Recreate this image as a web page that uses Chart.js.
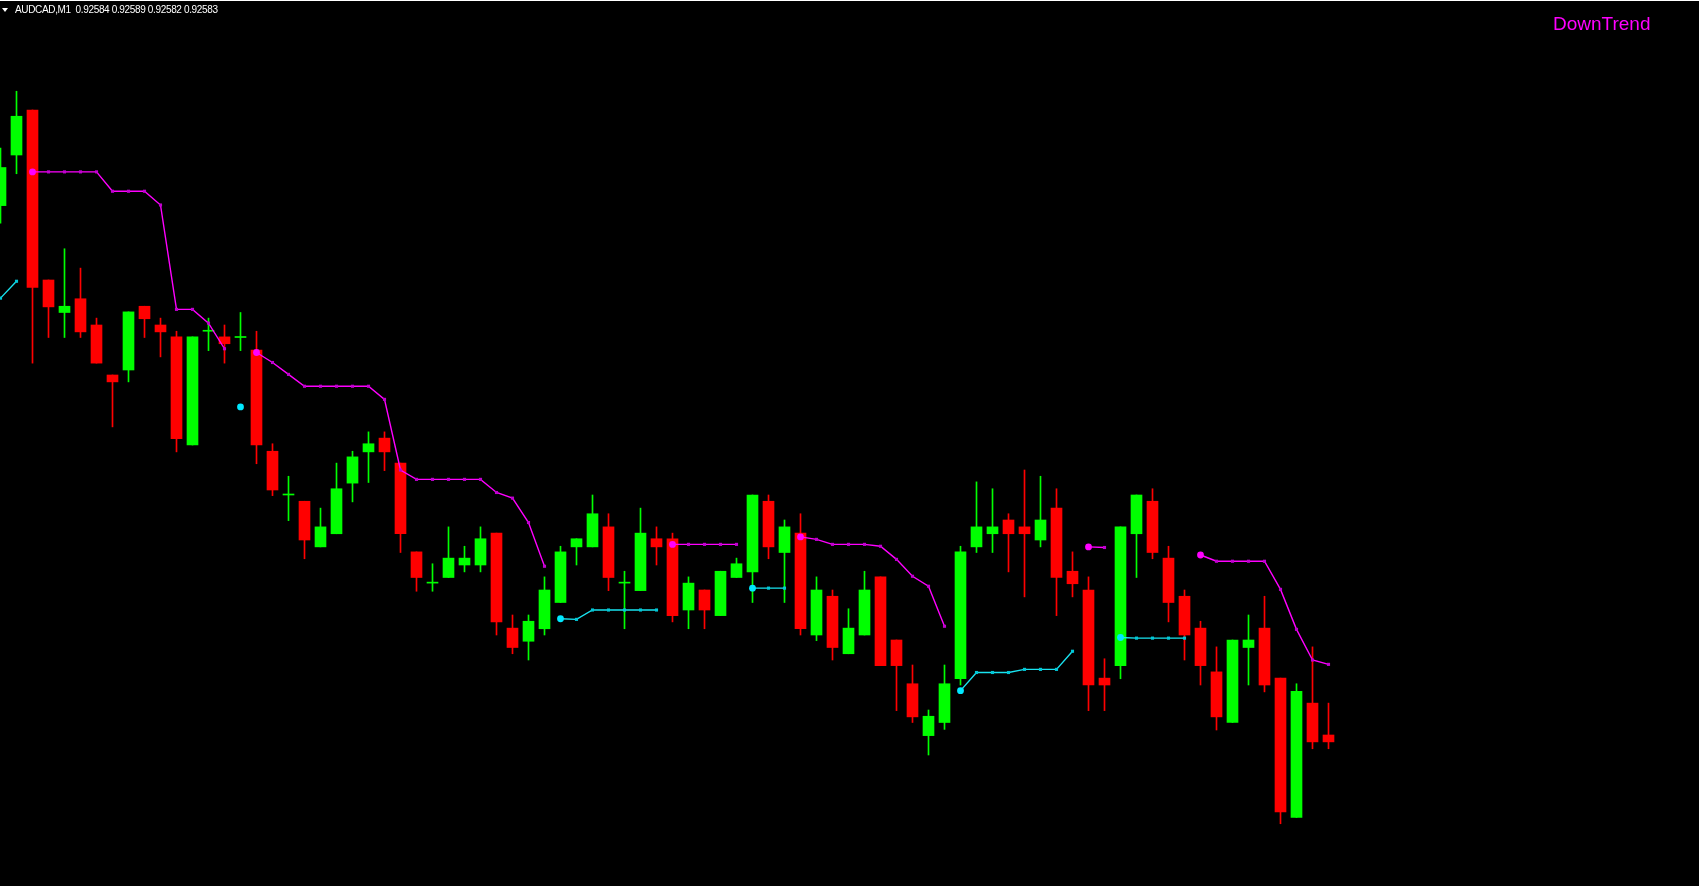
<!DOCTYPE html>
<html><head><meta charset="utf-8">
<script src="https://cdn.jsdelivr.net/npm/chart.js@4.4.1/dist/chart.umd.min.js"></script>
<style>
html,body{margin:0;padding:0;background:#000;overflow:hidden;}
#wrap{position:relative;width:1699px;height:886px;background:#000;}
canvas{position:absolute;left:0;top:0;}
#topline{position:absolute;left:0;top:0;width:1699px;height:1px;background:#fff;}
#tri{position:absolute;left:2px;top:8px;width:0;height:0;border-left:3px solid transparent;border-right:3px solid transparent;border-top:4px solid #fff;}
#hdr{position:absolute;left:15px;top:5px;font:10px "Liberation Sans",Arial,sans-serif;line-height:10px;color:#fff;white-space:pre;letter-spacing:-0.35px;}
#trend{position:absolute;left:1553px;top:14px;font:19px "Liberation Sans",Arial,sans-serif;line-height:19px;color:#ff00ff;white-space:pre;}
</style></head><body>
<div id="wrap"><canvas id="c" width="1699" height="886"></canvas><div id="topline"></div><div id="tri"></div><div id="hdr"></div><div id="trend"></div></div>
<script>
// ---- data (AUDCAD M1) ----
const symbol = 'AUDCAD';
const period = 'M1';
const headerQuote = ['0.92584', '0.92589', '0.92582', '0.92583'];
const trendLabel = 'DownTrend';

const open = [0.926687,0.926768,0.926840,0.926568,0.926516,0.926538,0.926496,0.926416,0.926424,0.926526,
0.926496,0.926477,0.926304,0.926486,0.926477,0.926476,0.926456,0.926294,0.926224,0.926214,
0.926141,0.926162,0.926243,0.926293,0.926315,0.926275,0.926133,0.926083,0.926092,0.926112,
0.926112,0.926163,0.926011,0.925990,0.926010,0.926052,0.926141,0.926141,0.926173,0.926083,
0.926071,0.926154,0.926154,0.926040,0.926072,0.926031,0.926092,0.926101,0.926214,0.926132,
0.926163,0.926000,0.926062,0.925970,0.926000,0.926093,0.925992,0.925922,0.925839,0.925860,
0.925930,0.926141,0.926162,0.926184,0.926173,0.926152,0.926203,0.926102,0.926072,0.925931,
0.925951,0.926162,0.926214,0.926123,0.926062,0.926011,0.925941,0.925860,0.925980,0.926011,
0.925931,0.925708,0.925891,0.925840];

const high = [0.926779,0.926870,0.926840,0.926568,0.926618,0.926587,0.926507,0.926416,0.926517,0.926526,
0.926507,0.926486,0.926477,0.926507,0.926496,0.926516,0.926486,0.926306,0.926254,0.926214,
0.926203,0.926275,0.926294,0.926325,0.926325,0.926275,0.926133,0.926114,0.926173,0.926142,
0.926173,0.926163,0.926032,0.926032,0.926093,0.926142,0.926154,0.926224,0.926194,0.926102,
0.926203,0.926173,0.926163,0.926093,0.926072,0.926102,0.926123,0.926224,0.926224,0.926184,
0.926194,0.926093,0.926072,0.926042,0.926102,0.926093,0.925992,0.925952,0.925880,0.925952,
0.926142,0.926245,0.926234,0.926194,0.926264,0.926254,0.926234,0.926133,0.926093,0.925962,
0.926173,0.926224,0.926234,0.926142,0.926072,0.926022,0.925981,0.925992,0.926032,0.926062,
0.925931,0.925922,0.925981,0.925891];

const low = [0.926659,0.926738,0.926435,0.926476,0.926476,0.926476,0.926435,0.926333,0.926405,0.926476,
0.926445,0.926293,0.926304,0.926455,0.926435,0.926455,0.926274,0.926223,0.926183,0.926122,
0.926141,0.926162,0.926213,0.926244,0.926263,0.926132,0.926070,0.926070,0.926092,0.926101,
0.926101,0.926000,0.925970,0.925960,0.926000,0.926052,0.926112,0.926141,0.926071,0.926010,
0.926071,0.926112,0.926021,0.926010,0.926010,0.926031,0.926092,0.926052,0.926122,0.926052,
0.926000,0.925991,0.925960,0.925970,0.926000,0.925951,0.925879,0.925860,0.925808,0.925849,
0.925920,0.926132,0.926132,0.926101,0.926061,0.926141,0.926031,0.926061,0.925879,0.925879,
0.925930,0.926092,0.926122,0.926021,0.925960,0.925920,0.925848,0.925860,0.925920,0.925909,
0.925698,0.925708,0.925818,0.925818];

const close = [0.926748,0.926830,0.926556,0.926525,0.926526,0.926485,0.926435,0.926405,0.926517,0.926506,
0.926485,0.926314,0.926477,0.926486,0.926466,0.926476,0.926304,0.926232,0.926224,0.926152,
0.926173,0.926234,0.926285,0.926306,0.926293,0.926162,0.926092,0.926083,0.926123,0.926123,
0.926154,0.926021,0.925980,0.926022,0.926072,0.926133,0.926154,0.926194,0.926092,0.926083,
0.926163,0.926141,0.926031,0.926083,0.926040,0.926102,0.926114,0.926224,0.926141,0.926173,
0.926010,0.926072,0.925980,0.926011,0.926072,0.925951,0.925951,0.925869,0.925870,0.925922,
0.926133,0.926173,0.926173,0.926162,0.926162,0.926184,0.926092,0.926082,0.925920,0.925920,
0.926173,0.926224,0.926132,0.926052,0.926000,0.925951,0.925869,0.925992,0.925992,0.925920,
0.925717,0.925910,0.925829,0.925829];

// trend indicator: downtrend (magenta) and uptrend (aqua) lines
const downLine = [null,null,0.926741,0.926741,0.926741,0.926741,0.926741,0.926710,0.926710,0.926710,
0.926688,0.926521,0.926521,0.926499,0.926458,null,0.926452,0.926436,0.926417,0.926398,
0.926398,0.926398,0.926398,0.926398,0.926377,0.926264,0.926249,0.926249,0.926249,0.926249,
0.926249,0.926228,0.926219,0.926180,0.926110,null,null,null,null,null,
null,null,0.926145,0.926145,0.926145,0.926145,0.926145,null,null,null,
0.926157,0.926153,0.926145,0.926145,0.926145,0.926142,0.926121,0.926094,0.926078,0.926014,
null,null,null,null,null,null,null,null,0.926141,0.926140,
null,null,null,null,null,0.926128,0.926118,0.926118,0.926118,0.926118,
0.926073,0.926009,0.925960,0.925953];

const upLine = [0.926539,0.926566,null,null,null,null,null,null,null,null,
null,null,null,null,null,0.926365,null,null,null,null,
null,null,null,null,null,null,null,null,null,null,
null,null,null,null,null,0.926026,0.926025,0.926040,0.926040,0.926040,
0.926040,0.926040,null,null,null,null,null,0.926075,0.926075,0.926075,
null,null,null,null,null,null,null,null,null,null,
0.925911,0.925940,0.925940,0.925940,0.925945,0.925945,0.925945,0.925974,null,null,
0.925996,0.925995,0.925995,0.925995,0.925995,null,null,null,null,null,
null,null,null,null];

// ---- view ----
const Y_MAX = 0.927016, Y_MIN = 0.9255984;
const X_MIN = -0.03125, X_MAX = 106.15625;

document.getElementById('hdr').textContent = symbol + ',' + period + '  ' + headerQuote.join(' ');
document.getElementById('trend').textContent = trendLabel;

const idx = open.map((_, i) => i);
const colors = idx.map(i => close[i] >= open[i] ? '#00FF00' : '#FF0000');
const wickData = idx.map(i => ({x: i, y: [low[i], high[i]]}));
const bodyData = idx.map(i => ({x: i, y: [Math.min(open[i], close[i]), Math.max(open[i], close[i])]}));

function lineDataset(vals, lineColor, markColor, dotColor) {
  const isStart = vals.map((v, i) => v !== null && i > 0 && vals[i - 1] === null);
  return {
    type: 'line',
    data: vals.map((v, i) => ({x: i, y: v})),
    borderColor: lineColor,
    borderWidth: 1.4,
    tension: 0,
    spanGaps: false,
    fill: false,
    pointStyle: isStart.map(s => s ? 'circle' : 'rect'),
    pointRadius: vals.map((v, i) => v === null ? 0 : (isStart[i] ? 3.4 : 2.2)),
    pointBackgroundColor: isStart.map(s => s ? dotColor : markColor),
    pointBorderWidth: 0,
    pointHoverRadius: 0,
    order: 0
  };
}

new Chart(document.getElementById('c'), {
  type: 'bar',
  data: {
    datasets: [
      lineDataset(downLine, '#FF00FF', '#C000D0', '#FF00FF'),
      lineDataset(upLine, '#19E3F0', '#00C8D8', '#00E8FF'),
      {type: 'bar', data: bodyData, backgroundColor: colors, barThickness: 11, grouped: false, borderWidth: 0, minBarLength: 1, order: 1},
      {type: 'bar', data: wickData, backgroundColor: colors, barThickness: 1, grouped: false, borderWidth: 0, order: 2}
    ]
  },
  options: {
    responsive: false,
    animation: false,
    devicePixelRatio: 1,
    events: [],
    layout: {padding: 0, autoPadding: false},
    plugins: {legend: {display: false}, tooltip: {enabled: false}},
    scales: {
      x: {type: 'linear', min: X_MIN, max: X_MAX, display: false, offset: false, grid: {display: false}},
      y: {type: 'linear', min: Y_MIN, max: Y_MAX, display: false, grid: {display: false}}
    }
  }
});
</script>
</body></html>
